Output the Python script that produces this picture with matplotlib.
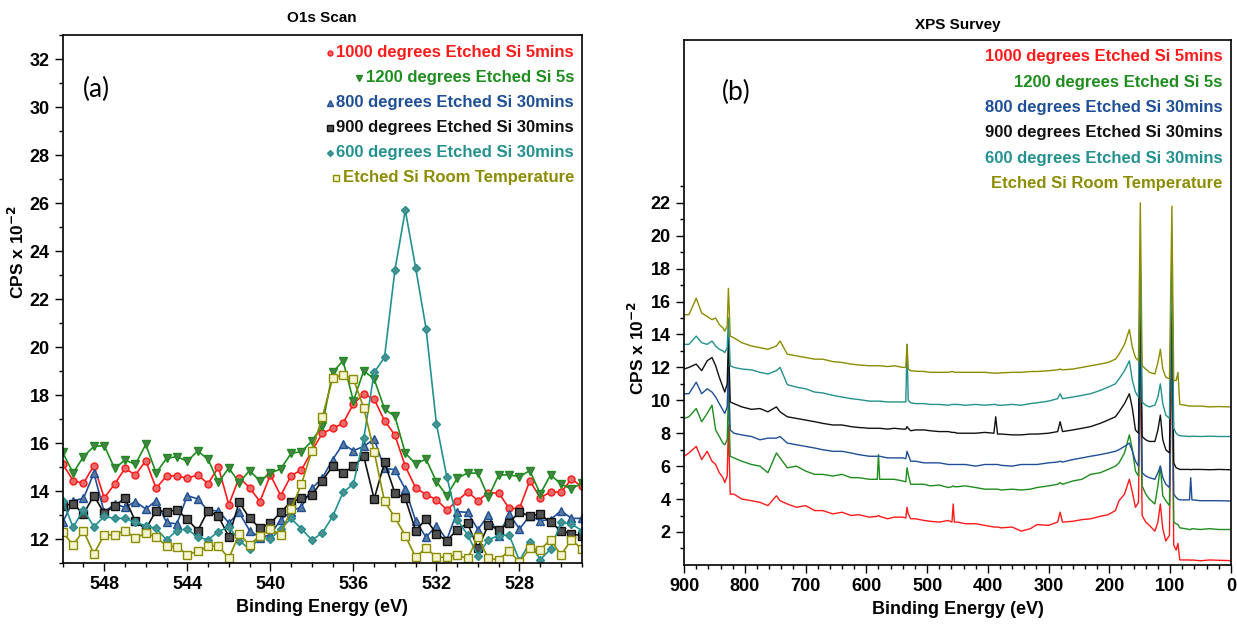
import matplotlib
matplotlib.use("Agg")
import matplotlib.pyplot as plt
import numpy as np

plt.rcParams['font.family'] = ['Liberation Sans', 'DejaVu Sans']
plt.rcParams['font.weight'] = 'bold'

#---------------- (a) O1s scan data, 550 -> 525 eV every 0.5 eV
o1s_energy = np.arange(550, 524.9, -0.5)

o1s_1000 = [15.13,14.43,14.32,15.06,13.71,14.29,14.94,14.67,15.26,14.11,14.63,14.63,14.53,14.67,14.31,14.99,13.43,14.56,14.14,13.56,14.67,13.81,14.64,14.88,15.67,16.40,
            16.61,16.82,17.63,18.04,17.83,16.93,16.33,15.03,14.13,13.85,13.64,13.22,13.58,13.97,13.60,13.92,13.92,13.28,13.28,14.43,13.71,13.97,13.94,14.50,14.19]
o1s_1200 = [15.61,14.75,15.43,15.86,15.89,14.94,15.29,15.11,15.94,14.75,15.36,15.43,15.24,15.67,15.32,14.36,14.96,14.35,14.85,14.42,14.75,14.92,15.57,15.64,16.08,16.72,
            18.94,19.43,17.76,19.01,18.67,17.42,17.11,15.58,15.13,15.33,14.39,13.81,14.53,14.75,14.74,13.74,14.67,14.67,14.60,14.85,13.88,14.67,14.29,14.08,14.33]
o1s_800 = [12.69,13.60,13.69,14.75,13.11,13.46,13.32,13.56,13.25,13.60,12.69,12.63,13.81,13.67,13.18,13.18,12.67,13.11,12.35,12.06,12.17,12.81,13.14,13.35,14.11,14.53,
           15.31,15.96,15.68,15.86,16.17,14.94,14.89,14.08,12.76,12.07,12.56,11.97,13.14,13.11,12.39,13.00,12.14,13.04,12.42,12.97,12.76,12.81,13.18,12.86,12.86]
o1s_900 = [13.39,13.46,13.04,13.81,13.07,13.39,13.69,12.74,12.42,13.18,13.14,13.21,12.83,12.35,13.18,12.94,12.10,13.53,12.86,12.46,12.65,13.11,13.56,13.69,13.83,14.43,
           15.03,14.75,15.03,15.44,13.67,15.19,13.92,13.69,12.35,12.83,12.21,11.93,12.39,12.65,11.61,12.58,12.39,12.67,13.14,12.94,13.04,12.69,12.35,12.21,12.14]
o1s_600 = [13.60,12.49,13.22,12.51,12.94,12.86,12.86,12.69,12.56,12.44,11.97,12.35,12.42,12.07,11.97,12.31,12.51,11.93,11.58,12.07,12.00,12.42,12.86,12.42,11.96,12.25,
           12.94,13.94,14.29,16.19,18.94,19.57,23.2,25.7,23.3,20.77,16.8,14.6,12.81,12.17,11.31,11.97,12.14,12.17,11.10,11.86,11.14,11.58,12.69,12.63,12.35]
o1s_rt = [12.28,11.75,12.35,11.38,12.17,12.17,12.35,12.03,12.25,12.07,11.72,11.67,11.35,11.49,11.69,11.72,11.19,12.21,11.75,12.14,12.42,12.17,13.25,14.29,15.68,17.07,
          18.69,18.85,18.67,17.46,15.64,13.57,12.90,12.14,11.24,11.63,11.24,11.24,11.33,11.19,12.07,11.19,11.14,11.51,11.03,11.61,11.56,11.97,11.33,11.97,11.58]

#---------------- (b) survey data
svy_energy = [900,892,880,871,862,854,848,842,836,833,829,827,824,818,805,789,775,762,748,742,
              730,715,700,685,672,655,640,625,613,595,582,580,578,565,554,540,535,533,531,527,
              519,505,495,480,465,459,457,455,450,437,420,405,390,387,384,378,360,345,330,319,
              300,285,281,277,260,245,231,215,202,190,184,175,167,162,157,152,149,146,140,134,
              125,120,116,112,107,101,97,94,90,87,84,75,68,66,64,50,35,20,0]
svy_1000 = [6.6,6.8,7.2,6.4,6.9,6.3,6.1,5.6,5.3,5.0,5.4,8.5,4.3,4.3,4.0,3.9,3.8,3.6,4.2,3.9,
            3.7,3.5,3.6,3.3,3.3,3.1,3.2,3.0,3.05,2.9,2.95,3.0,2.95,2.8,2.9,2.9,2.85,3.5,3.1,2.8,
            2.8,2.7,2.65,2.6,2.7,2.6,3.7,2.6,2.6,2.5,2.5,2.4,2.3,2.3,2.3,2.25,2.3,2.05,2.2,2.45,
            2.4,2.6,3.2,2.6,2.65,2.75,2.8,2.95,3.05,3.3,3.9,4.3,5.2,4.4,3.5,3.8,12.5,3.0,2.6,2.4,
            2.05,2.6,3.7,2.2,1.45,1.8,14.0,1.2,0.9,1.3,0.3,0.3,0.3,0.28,0.3,0.25,0.3,0.28,0.26]
svy_1200 = [8.9,9.0,9.5,8.7,9.2,9.7,8.2,7.8,7.4,7.3,7.6,10.4,6.6,6.5,6.3,6.1,6.0,5.6,6.8,6.5,
            5.9,6.0,5.7,5.5,5.5,5.4,5.5,5.3,5.3,5.2,5.2,6.7,5.2,5.2,5.2,5.1,5.05,5.9,5.5,4.9,
            4.9,4.9,4.8,4.85,4.7,4.75,4.8,4.75,4.75,4.8,4.7,4.6,4.6,4.6,4.6,4.55,4.6,4.55,4.6,4.7,
            4.8,4.9,5.0,4.9,5.1,5.2,5.5,5.6,5.8,6.0,6.2,6.8,7.9,7.0,5.7,5.4,16.4,4.8,4.3,4.0,
            3.7,4.8,6.0,4.2,3.9,3.6,17.7,2.6,2.5,2.45,2.25,2.2,2.15,2.15,2.2,2.15,2.2,2.15,2.15]
svy_800 = [10.4,10.4,11.1,10.4,10.7,10.5,10.2,9.8,9.4,9.2,9.6,12.0,8.2,8.0,7.9,7.8,7.6,7.7,7.7,7.8,
           7.4,7.3,7.2,7.1,7.0,6.9,6.9,6.8,6.7,6.6,6.6,6.6,6.6,6.5,6.5,6.5,6.45,6.9,6.7,6.3,
           6.3,6.2,6.2,6.2,6.1,6.1,6.1,6.1,6.1,6.1,6.0,6.1,6.1,6.1,6.1,6.05,6.0,6.1,6.1,6.1,
           6.2,6.25,6.3,6.25,6.4,6.5,6.6,6.7,6.8,6.9,7.0,7.2,7.4,6.9,6.3,6.0,15.2,5.6,5.4,5.3,
           5.2,5.6,6.0,5.3,4.9,4.7,16.2,4.3,4.1,4.0,3.95,3.95,3.95,5.3,3.95,3.9,3.9,3.9,3.88]
svy_900 = [11.9,12.0,12.2,11.8,12.4,12.6,12.1,11.4,10.8,10.5,11.0,13.8,9.9,9.8,9.6,9.45,9.5,9.3,9.6,9.3,
           9.0,8.9,8.8,8.7,8.6,8.5,8.5,8.4,8.35,8.3,8.3,8.3,8.3,8.25,8.3,8.25,8.25,8.4,8.3,8.15,
           8.2,8.2,8.15,8.1,8.1,8.05,8.05,8.05,8.0,8.0,8.0,8.05,8.0,9.0,7.95,7.95,7.9,7.9,7.95,7.95,
           8.0,8.1,8.7,8.1,8.2,8.3,8.4,8.6,8.8,9.0,9.3,9.8,10.4,9.5,8.2,8.0,17.8,7.8,7.6,7.5,
           7.5,8.2,9.1,7.6,7.0,6.8,18.5,6.2,5.9,5.85,5.8,5.8,5.8,5.78,5.8,5.8,5.78,5.8,5.78]
svy_600 = [13.4,13.4,13.9,13.5,13.4,13.6,13.3,13.1,13.0,12.9,13.2,15.0,12.1,12.0,11.9,11.85,11.7,11.6,11.8,12.0,
           10.95,10.8,10.7,10.5,10.45,10.3,10.2,10.1,10.05,9.95,9.95,9.95,9.95,9.9,9.9,9.9,9.9,13.4,10.0,9.85,
           9.8,9.8,9.75,9.75,9.7,9.75,9.75,9.75,9.75,9.7,9.75,9.7,9.75,9.75,9.7,9.7,9.75,9.7,9.8,9.85,
           9.95,10.1,10.4,10.1,10.2,10.3,10.4,10.6,10.8,11.0,11.3,11.8,12.4,11.2,10.5,10.2,18.6,9.9,9.7,9.6,
           9.7,10.2,11.0,9.8,9.1,8.9,18.9,8.3,8.0,7.9,7.85,7.82,7.8,7.8,7.82,7.8,7.82,7.8,7.8]
svy_rt = [15.2,15.2,16.2,15.3,15.1,14.9,15.0,14.6,14.4,14.2,14.5,16.8,13.9,13.8,13.5,13.3,13.2,13.1,13.3,13.6,
          12.8,12.7,12.6,12.5,12.5,12.35,12.3,12.2,12.15,12.1,12.1,12.1,12.1,12.05,12.1,12.0,12.0,13.4,11.9,11.8,
          11.77,11.75,11.7,11.7,11.7,11.75,11.75,11.7,11.7,11.7,11.7,11.7,11.65,11.65,11.65,11.67,11.7,11.7,11.75,11.75,
          11.8,11.85,11.9,11.85,11.9,12.0,12.1,12.2,12.3,12.5,12.8,13.4,14.3,13.2,12.6,12.4,22.0,12.1,11.9,11.7,
          11.6,12.3,13.1,11.9,11.4,11.3,21.8,11.2,11.2,11.7,9.75,9.7,9.65,9.65,9.65,9.65,9.6,9.62,9.6]

labels = ['1000 degrees Etched Si 5mins', '1200 degrees Etched Si 5s', '800 degrees Etched Si 30mins',
          '900 degrees Etched Si 30mins', '600 degrees Etched Si 30mins', 'Etched Si Room Temperature']
colors = ['#ff1a1a', '#1e8c1e', '#1f4f96', '#111111', '#23918f', '#8c8c00']
markers = ['o', 'v', '^', 's', 'D', 's']
mfaces = ['#e86a6a', '#4c7f4c', '#5a7aa0', '#505050', '#4f8f8f', '#f4f4d0']
msizes = [5, 6, 6, 6, 4.5, 5.5]

fig = plt.figure(figsize=(12.37, 6.28), dpi=100)
ax1 = fig.add_axes([0.0507, 0.1035, 0.4196, 0.8407])
ax2 = fig.add_axes([0.553, 0.1005, 0.442, 0.836])

o1s = [o1s_1000, o1s_1200, o1s_800, o1s_900, o1s_600, o1s_rt]
for y, c, m, mf, ms in zip(o1s, colors, markers, mfaces, msizes):
    ax1.plot(o1s_energy, y, color=c, lw=1.2, marker=m, mfc=mf, mec=c, ms=ms, mew=1.0)

ax1.set_xlim(550, 525)
ax1.set_ylim(11, 33)
ax1.set_xticks([548, 544, 540, 536, 532, 528])
ax1.set_xticks(np.arange(525, 551, 1), minor=True)
ax1.set_yticks(np.arange(12, 33, 2))
ax1.set_yticks(np.arange(11, 34, 1), minor=True)
ax1.set_title('O1s Scan', fontsize=11, fontweight='bold', pad=9.5)
ax1.set_xlabel('Binding Energy (eV)', fontsize=13, fontweight='bold')
ax1.set_ylabel('CPS x 10$^{\\mathbf{-2}}$', fontsize=12.5, fontweight='bold')
ax1.yaxis.set_label_coords(-0.068, 0.589)
ax1.text(0.039, 0.896, '(a)', transform=ax1.transAxes, fontsize=19, fontweight='normal', family='Lato', va='center')

svy = [svy_1000, svy_1200, svy_800, svy_900, svy_600, svy_rt]
for y, c in zip(svy, colors):
    ax2.plot(svy_energy, y, color=c, lw=1.0)
ax2.set_xlim(900, 0)
ax2.set_ylim(0, 31.9)
ax2.set_xticks(np.arange(900, -1, -100))
ax2.set_xticks(np.arange(900, -1, -20), minor=True)
ax2.set_yticks(np.arange(2, 23, 2))
ax2.set_yticks(np.arange(1, 24, 1), minor=True)
ax2.set_title('XPS Survey', fontsize=11, fontweight='bold', pad=8)
ax2.set_xlabel('Binding Energy (eV)', fontsize=13, fontweight='bold')
ax2.set_ylabel('CPS x 10$^{\\mathbf{-2}}$', fontsize=12.5, fontweight='bold')
ax2.yaxis.set_label_coords(-0.068, 0.413)
ax2.text(0.069, 0.90, '(b)', transform=ax2.transAxes, fontsize=19, fontweight='normal', family='Lato', va='center')

for ax in (ax1, ax2):
    ax.tick_params(which='major', direction='out', length=6, width=1, labelsize=13)
    ax.tick_params(which='minor', direction='out', length=3, width=1)
    ax.tick_params(top=False, right=False)
    for s in ax.spines.values():
        s.set_linewidth(1.2)

# legends as right aligned coloured text
fig.canvas.draw()
r = fig.canvas.get_renderer()
for i, (lab, c) in enumerate(zip(labels, colors)):
    yy = 0.966 - i * 0.0473
    t = ax1.text(0.985, yy, lab, transform=ax1.transAxes, ha='right', va='center', color=c, fontsize=12, fontweight='bold')
    bb = t.get_window_extent(renderer=r).transformed(ax1.transAxes.inverted())
    ax1.plot([bb.x0 - 0.013], [yy], transform=ax1.transAxes, marker=markers[i], mfc=mfaces[i], mec=c,
             ms=msizes[i] - 1.5, ls='none', clip_on=False)
    ax2.text(0.985, 0.968 - i * 0.0484, lab, transform=ax2.transAxes, ha='right', va='center', color=c, fontsize=12, fontweight='bold')

fig.savefig('out.png', dpi=100)
